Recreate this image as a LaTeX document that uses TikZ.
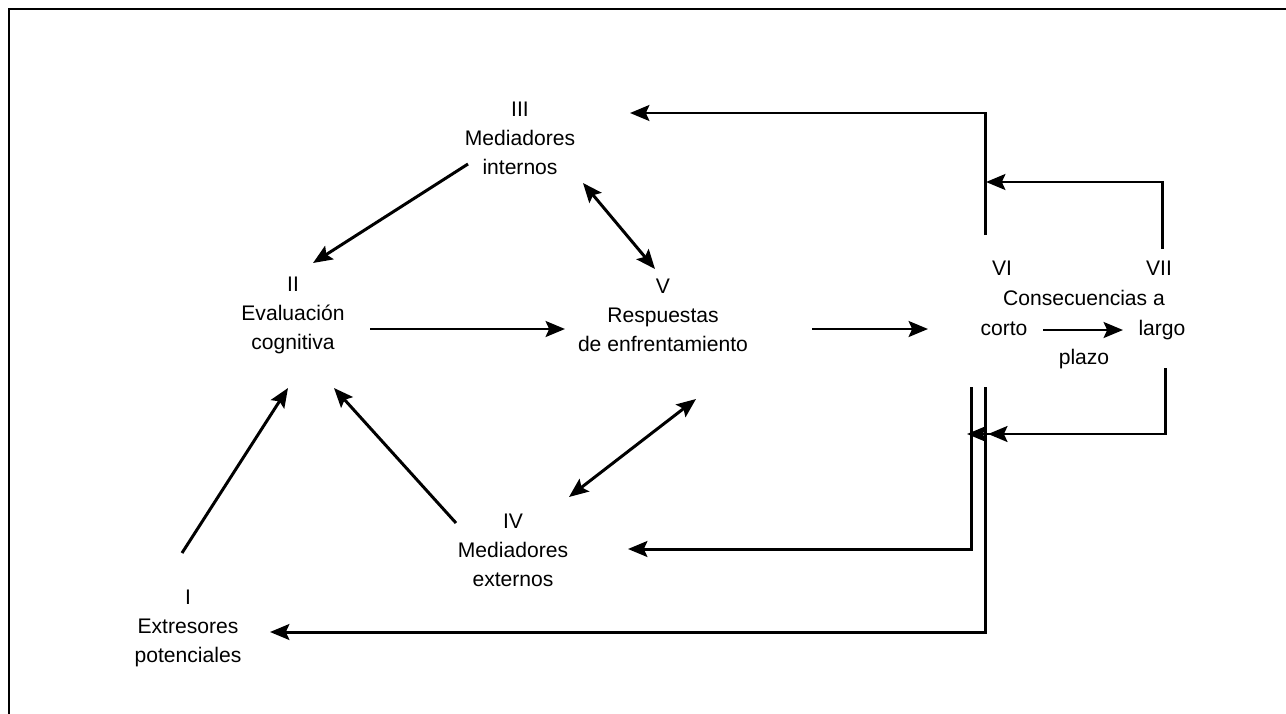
\documentclass[tikz,border=0pt]{standalone}
\usepackage{fontspec}
\setmainfont{Liberation Sans}
\usetikzlibrary{arrows.meta}

\tikzset{
  lbl/.style={align=center, inner sep=0pt, font=\fontsize{12}{16.5}\selectfont},
  sm/.style={inner sep=0pt, text height=8.5pt, text depth=2.8pt, font=\fontsize{12}{16.5}\selectfont},
  arr/.style={line width=1.7pt, -{Stealth[length=11pt,width=9pt,inset=2pt]}},
  darr/.style={line width=1.7pt, {Stealth[length=11pt,width=9pt,inset=2pt]}-{Stealth[length=11pt,width=9pt,inset=2pt]}},
  ln/.style={line width=1.7pt}
}

\begin{document}
\begin{tikzpicture}[x=0.02cm, y=-0.02cm]

\useasboundingbox (0,0) rectangle (1286,714);

% Frame (left and top only)
\draw[line width=1.5pt] (9,714) -- (9,9) -- (1286,9);

% Stages
\node[lbl] (III) at (520,138) {III\\Mediadores\\internos};
\node[lbl] (II)  at (293,315) {II\\Evaluación\\cognitiva};
\node[lbl] (V)   at (663,315) {V\\Respuestas\\de enfrentamiento};
\node[lbl] (IV)  at (513,550) {IV\\Mediadores\\externos};
\node[lbl] (I)   at (188,628) {I\\Extresores\\potenciales};

% Consequences
\node[sm] (VI)    at (1002,270) {VI};
\node[sm] (VII)   at (1159,270) {VII};
\node[sm] (cons)  at (1084,300) {Consecuencias a};
\node[sm] (corto) at (1004,330) {corto};
\node[sm] (largo) at (1162,330) {largo};
\node[sm] (plazo) at (1084,359) {plazo};

% Triangle of mediators
\draw[arr]  ([shift={(-52,26)}]III.center) -- ([shift={(20,-52)}]II.center);
\draw[darr] ([shift={(63,45)}]III.center) -- ([shift={(-8,-46)}]V.center);
\draw[arr]  ([shift={(77,14)}]II.center) -- ([shift={(-98,14)}]V.center);
\draw[darr] ([shift={(56,-53)}]IV.center) -- ([shift={(33,84)}]V.center);
\draw[arr]  ([shift={(-6,-75)}]I.center) -- ([shift={(-5,73)}]II.center);
\draw[arr]  ([shift={(-57,-27)}]IV.center) -- ([shift={(41,73)}]II.center);

% Into consequences
\draw[arr] ([shift={(149,14)}]V.center) -- ([shift={(-76,-1)}]corto.center);
\draw[arr] ([shift={(39,0)}]corto.center) -- ([shift={(-39,0)}]largo.center);

% Feedback loops
\draw[arr] ([shift={(-17,-35)}]VI.center) |- ([shift={(110,-25)}]III.center);
\draw[arr] ([shift={(3,-21)}]VII.center) |- ([shift={(-16,-88)}]VI.center);
\draw[line width=1.7pt, -{Stealth[length=11pt,width=9pt,inset=2pt,sep=1pt]Stealth[length=11pt,width=9pt,inset=2pt]}]
    ([shift={(3,38)}]largo.center) |- ([shift={(-37,104)}]corto.center);
\draw[arr] ([shift={(-33,57)}]corto.center) |- ([shift={(115,-1)}]IV.center);
\draw[arr] ([shift={(-19,57)}]corto.center) |- ([shift={(82,4)}]I.center);

\end{tikzpicture}
\end{document}
